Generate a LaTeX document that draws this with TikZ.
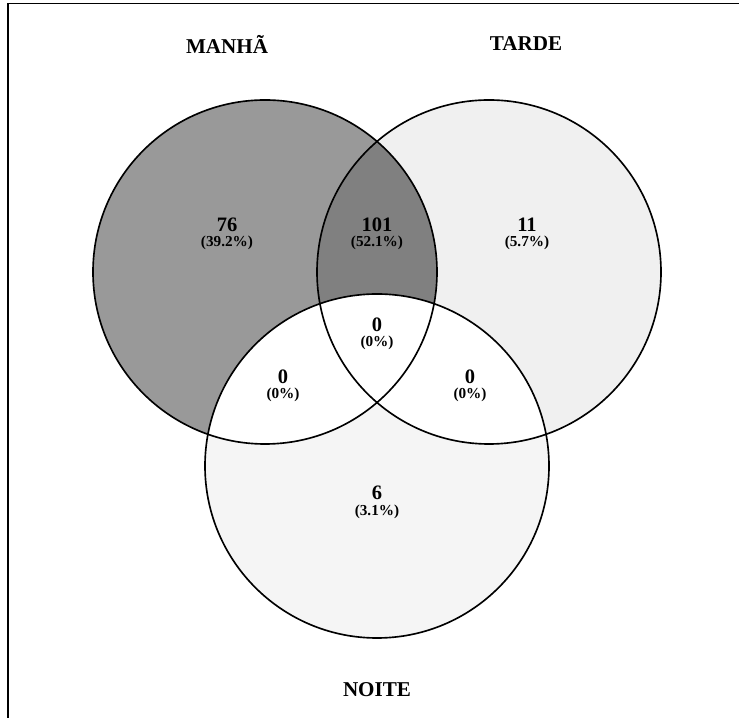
\documentclass[tikz,border=0pt]{standalone}
\usepackage{fontspec}
\setmainfont{Liberation Serif}

\definecolor{manhaonly}{gray}{0.60}
\definecolor{manhatarde}{gray}{0.50}
\definecolor{tardeonly}{gray}{0.94}
\definecolor{noiteonly}{gray}{0.96}

\tikzset{
  settitle/.style={font=\bfseries\fontsize{18}{20}\selectfont},
  count/.style={font=\bfseries\fontsize{17.5}{19}\selectfont, inner sep=0pt},
  percent/.style={font=\bfseries\fontsize{13}{15}\selectfont, inner sep=0pt},
  ring/.style={draw=black, line width=1.4pt},
}

\begin{document}
\begin{tikzpicture}
\useasboundingbox (0,0) rectangle (22.17,21.54);

% Frame
\draw[line width=1.2pt] (0.24,0) -- (0.24,21.44) -- (22.17,21.44);

% Circle centres
\coordinate (manha) at (7.95,13.38);
\coordinate (tarde) at (14.67,13.38);
\coordinate (noite) at (11.31,7.56);

% Region fills
\fill[manhaonly] (manha) circle (5.16);
\fill[tardeonly] (tarde) circle (5.16);
\fill[noiteonly] (noite) circle (5.16);
\begin{scope}
\clip (manha) circle (5.16);
\fill[manhatarde] (tarde) circle (5.16);
\end{scope}
\begin{scope}
\clip (noite) circle (5.16);
\fill[white] (manha) circle (5.16);
\fill[white] (tarde) circle (5.16);
\end{scope}

% Outlines
\draw[ring] (manha) circle (5.16);
\draw[ring] (tarde) circle (5.16);
\draw[ring] (noite) circle (5.16);

% Set names
\node[settitle] (tManha) at (6.81,20.22) {MANHÃ};
\node[settitle] (tTarde) at (15.78,20.22) {TARDE};
\node[settitle] (tNoite) at (11.31,0.84) {NOITE};

% Counts
\node[count] (nM) at (6.81,14.79) {76};
\node[percent] (pM) at (6.81,14.25) {(39.2\%)};

\node[count] (nMT) at (11.31,14.79) {101};
\node[percent] (pMT) at (11.31,14.25) {(52.1\%)};

\node[count] (nT) at (15.81,14.79) {11};
\node[percent] (pT) at (15.81,14.25) {(5.7\%)};

\node[count] (nMTN) at (11.31,11.79) {0};
\node[percent] (pMTN) at (11.31,11.25) {(0\%)};

\node[count] (nMN) at (8.49,10.24) {0};
\node[percent] (pMN) at (8.49,9.68) {(0\%)};

\node[count] (nTN) at (14.10,10.24) {0};
\node[percent] (pTN) at (14.10,9.68) {(0\%)};

\node[count] (nN) at (11.31,6.75) {6};
\node[percent] (pN) at (11.31,6.18) {(3.1\%)};

\end{tikzpicture}
\end{document}
